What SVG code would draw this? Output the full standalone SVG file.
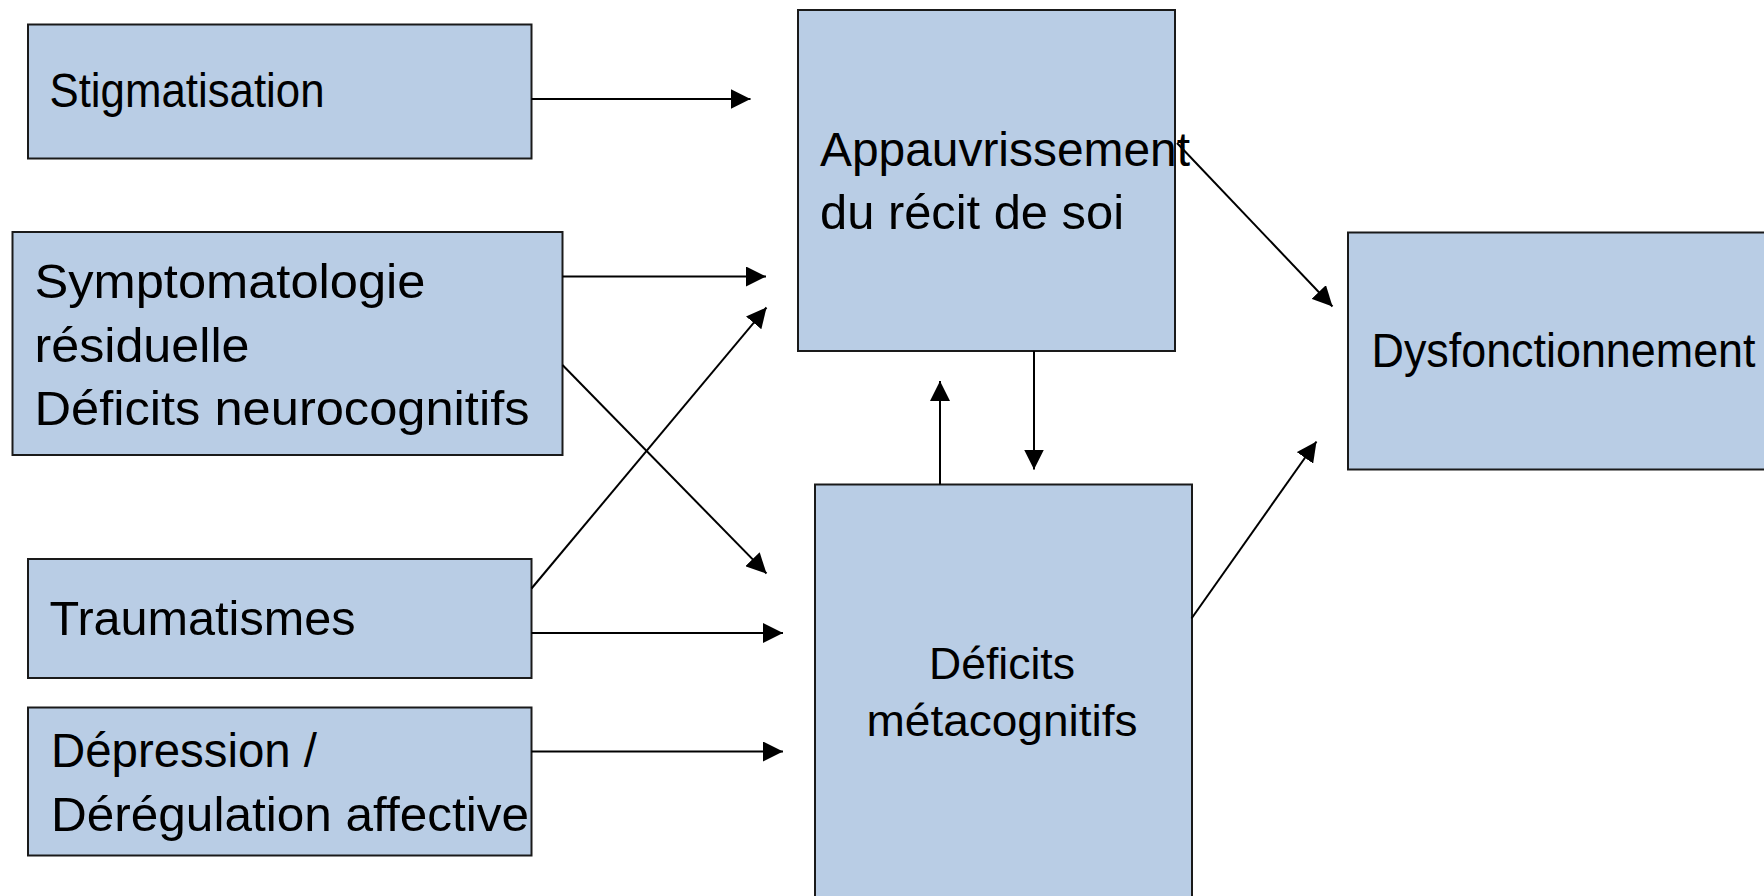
<svg xmlns="http://www.w3.org/2000/svg" width="1764" height="896" viewBox="0 0 1764 896">
<style>
.box{fill:#B9CDE5;stroke:#1a1a1a;stroke-width:2}
.t{font-family:"Liberation Sans",Arial,sans-serif;font-size:48px;fill:#000}
.c{stroke:#000;stroke-width:2;fill:none;marker-end:url(#ah)}
</style>
<defs>
<marker id="ah" markerUnits="userSpaceOnUse" markerWidth="20" markerHeight="20" refX="20" refY="10" orient="auto">
<path d="M0,0 L20,10 L0,20 z" fill="#000"/>
</marker>
</defs>
<rect width="1764" height="896" fill="#fff"/>
<g id="stigmatisation">
<rect class="box" x="28" y="24.5" width="503.5" height="134"/>
<text class="t" x="49.5" y="107" textLength="275" lengthAdjust="spacingAndGlyphs">Stigmatisation</text>
</g>
<g id="symptomatologie">
<rect class="box" x="12.5" y="232" width="550" height="223"/>
<text class="t" x="34.5" y="298" textLength="391" lengthAdjust="spacingAndGlyphs">Symptomatologie</text>
<text class="t" x="34.5" y="361.5" textLength="215" lengthAdjust="spacingAndGlyphs">résiduelle</text>
<text class="t" x="34.5" y="425" textLength="495" lengthAdjust="spacingAndGlyphs">Déficits neurocognitifs</text>
</g>
<g id="traumatismes">
<rect class="box" x="28" y="559" width="503.5" height="119"/>
<text class="t" x="49.5" y="635" textLength="306" lengthAdjust="spacingAndGlyphs">Traumatismes</text>
</g>
<g id="depression">
<rect class="box" x="28" y="707.5" width="503.5" height="148"/>
<text class="t" x="51" y="766.5" textLength="266" lengthAdjust="spacingAndGlyphs">Dépression /</text>
<text class="t" x="51" y="831" textLength="478" lengthAdjust="spacingAndGlyphs">Dérégulation affective</text>
</g>
<g id="appauvrissement">
<rect class="box" x="798" y="10" width="377" height="341"/>
<text class="t" x="820" y="165.5" textLength="370" lengthAdjust="spacingAndGlyphs">Appauvrissement</text>
<text class="t" x="820" y="228.5" textLength="304" lengthAdjust="spacingAndGlyphs">du récit de soi</text>
</g>
<g id="dysfonctionnement">
<rect class="box" x="1348" y="232.5" width="440" height="237"/>
<text class="t" x="1371.5" y="366.5" textLength="384" lengthAdjust="spacingAndGlyphs">Dysfonctionnement</text>
</g>
<g id="deficits-metacognitifs">
<rect class="box" x="815" y="484.5" width="377" height="430"/>
<text class="t" x="1002" y="679" text-anchor="middle" style="font-size:45px" textLength="146" lengthAdjust="spacingAndGlyphs">Déficits</text>
<text class="t" x="1002" y="736" text-anchor="middle" style="font-size:45px" textLength="271" lengthAdjust="spacingAndGlyphs">métacognitifs</text>
</g>
<g id="connectors">
<line class="c" x1="531.5" y1="99" x2="750.5" y2="99"/>
<line class="c" x1="562.5" y1="276.5" x2="766" y2="276.5"/>
<line class="c" x1="562.5" y1="365" x2="766.5" y2="573.5"/>
<line class="c" x1="531.5" y1="588.5" x2="766.5" y2="307.5"/>
<line class="c" x1="531.5" y1="633" x2="783" y2="633"/>
<line class="c" x1="531.5" y1="751.5" x2="783" y2="751.5"/>
<line class="c" x1="1177" y1="143" x2="1332.5" y2="306.5"/>
<line class="c" x1="1034" y1="351" x2="1034" y2="469.5"/>
<line class="c" x1="940" y1="484.5" x2="940" y2="381"/>
<line class="c" x1="1191.5" y1="618.5" x2="1316.5" y2="441.5"/>
</g>
</svg>
